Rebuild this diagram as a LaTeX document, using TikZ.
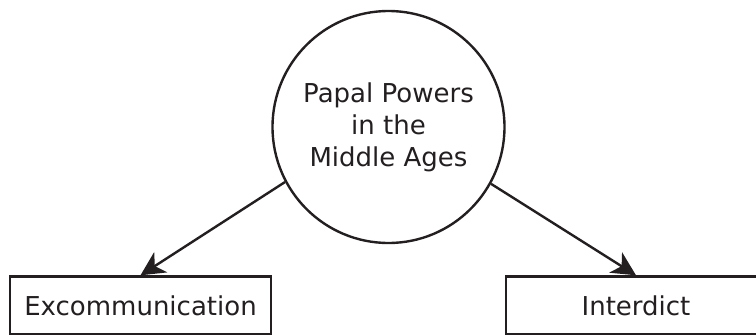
\documentclass[tikz,border=0pt]{standalone}
\usepackage{fontspec}
\setmainfont{DejaVu Sans}
\usetikzlibrary{arrows.meta}
\definecolor{ink}{HTML}{231F20}
\begin{document}
\begin{tikzpicture}[x=1pt,y=-1pt,
  every node/.style={font=\fontsize{26}{32}\selectfont, text=ink},
  hub/.style={circle, draw=ink, line width=2.4pt, minimum size=232pt, inner sep=0pt, align=center},
  leaf/.style={rectangle, draw=ink, line width=2.4pt, minimum height=58pt, inner sep=0pt},
  arr/.style={draw=ink, line width=2.4pt, -{Stealth[length=24pt,width=24pt,inset=7pt]}}]
\useasboundingbox (0,0) rectangle (756,335);
\node[hub] (c) at (388.5,127) {Papal Powers\\in the\\Middle Ages};
\node[leaf, minimum width=261pt] (l) at (140.5,305.5) {Excommunication};
\node[leaf, minimum width=260pt] (r) at (636,305.5) {Interdict};
\draw[arr] (c.208.4) -- (l.north);
\draw[arr] (c.331.6) -- (r.north);
\end{tikzpicture}
\end{document}
